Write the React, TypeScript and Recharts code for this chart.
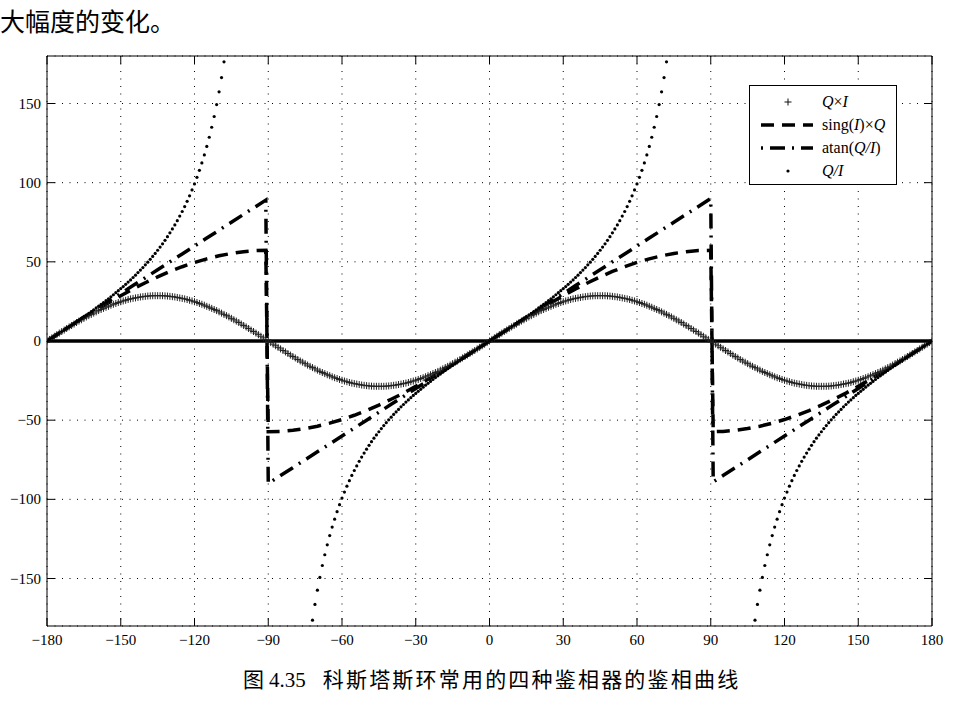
import React from 'react'
import {
  LineChart,
  Line,
  XAxis,
  YAxis,
  CartesianGrid,
  ReferenceLine,
  Legend,
} from 'recharts'

const X_TICKS = [-180, -150, -120, -90, -60, -30, 0, 30, 60, 90, 120, 150, 180]
const Y_TICKS = [-150, -100, -50, 0, 50, 100, 150]

// Q×I, one sample per degree from -180 to 180
const QI_START = -180
const QI_VALUES = [
  // -180 .. -90
  0, 1.0, 2.0, 3.0, 4.0, 5.0, 6.0, 6.9, 7.9, 8.9, 9.8, 10.7, 11.7, 12.6, 13.4, 14.3, 15.2, 16.0, 16.8, 17.6, 18.4, 19.2, 19.9,
  20.6, 21.3, 21.9, 22.6, 23.2, 23.7, 24.3, 24.8, 25.3, 25.7, 26.2, 26.6, 26.9, 27.2, 27.5, 27.8, 28.0, 28.2, 28.4, 28.5, 28.6, 28.6, 28.6,
  28.6, 28.6, 28.5, 28.4, 28.2, 28.0, 27.8, 27.5, 27.2, 26.9, 26.6, 26.2, 25.7, 25.3, 24.8, 24.3, 23.7, 23.2, 22.6, 21.9, 21.3, 20.6,
  19.9, 19.2, 18.4, 17.6, 16.8, 16.0, 15.2, 14.3, 13.4, 12.6, 11.7, 10.7, 9.8, 8.9, 7.9, 6.9, 6.0, 5.0, 4.0, 3.0, 2.0, 1.0, 0,
  // -89 .. 0
  -1.0, -2.0, -3.0, -4.0, -5.0, -6.0, -6.9, -7.9, -8.9, -9.8, -10.7, -11.7, -12.6, -13.4, -14.3, -15.2, -16.0, -16.8, -17.6, -18.4, -19.2, -19.9,
  -20.6, -21.3, -21.9, -22.6, -23.2, -23.7, -24.3, -24.8, -25.3, -25.7, -26.2, -26.6, -26.9, -27.2, -27.5, -27.8, -28.0, -28.2, -28.4, -28.5, -28.6, -28.6, -28.6,
  -28.6, -28.6, -28.5, -28.4, -28.2, -28.0, -27.8, -27.5, -27.2, -26.9, -26.6, -26.2, -25.7, -25.3, -24.8, -24.3, -23.7, -23.2, -22.6, -21.9, -21.3, -20.6,
  -19.9, -19.2, -18.4, -17.6, -16.8, -16.0, -15.2, -14.3, -13.4, -12.6, -11.7, -10.7, -9.8, -8.9, -7.9, -6.9, -6.0, -5.0, -4.0, -3.0, -2.0, -1.0, 0,
  // 1 .. 90
  1.0, 2.0, 3.0, 4.0, 5.0, 6.0, 6.9, 7.9, 8.9, 9.8, 10.7, 11.7, 12.6, 13.4, 14.3, 15.2, 16.0, 16.8, 17.6, 18.4, 19.2, 19.9,
  20.6, 21.3, 21.9, 22.6, 23.2, 23.7, 24.3, 24.8, 25.3, 25.7, 26.2, 26.6, 26.9, 27.2, 27.5, 27.8, 28.0, 28.2, 28.4, 28.5, 28.6, 28.6, 28.6,
  28.6, 28.6, 28.5, 28.4, 28.2, 28.0, 27.8, 27.5, 27.2, 26.9, 26.6, 26.2, 25.7, 25.3, 24.8, 24.3, 23.7, 23.2, 22.6, 21.9, 21.3, 20.6,
  19.9, 19.2, 18.4, 17.6, 16.8, 16.0, 15.2, 14.3, 13.4, 12.6, 11.7, 10.7, 9.8, 8.9, 7.9, 6.9, 6.0, 5.0, 4.0, 3.0, 2.0, 1.0, 0,
  // 91 .. 180
  -1.0, -2.0, -3.0, -4.0, -5.0, -6.0, -6.9, -7.9, -8.9, -9.8, -10.7, -11.7, -12.6, -13.4, -14.3, -15.2, -16.0, -16.8, -17.6, -18.4, -19.2, -19.9,
  -20.6, -21.3, -21.9, -22.6, -23.2, -23.7, -24.3, -24.8, -25.3, -25.7, -26.2, -26.6, -26.9, -27.2, -27.5, -27.8, -28.0, -28.2, -28.4, -28.5, -28.6, -28.6, -28.6,
  -28.6, -28.6, -28.5, -28.4, -28.2, -28.0, -27.8, -27.5, -27.2, -26.9, -26.6, -26.2, -25.7, -25.3, -24.8, -24.3, -23.7, -23.2, -22.6, -21.9, -21.3, -20.6,
  -19.9, -19.2, -18.4, -17.6, -16.8, -16.0, -15.2, -14.3, -13.4, -12.6, -11.7, -10.7, -9.8, -8.9, -7.9, -6.9, -6.0, -5.0, -4.0, -3.0, -2.0, -1.0, 0,
]

// angles for the sing / atan curves (extra points at ±91 for the jumps)
const STEP_ANGLES = [
  -180, -175, -170, -165, -160, -155, -150, -145, -140, -135, -130, -125, -120, -115, -110, -105, -100, -95, -91,
  -90, -85, -80, -75, -70, -65, -60, -55, -50, -45, -40, -35, -30, -25, -20, -15, -10, -5,
  0, 5, 10, 15, 20, 25, 30, 35, 40, 45, 50, 55, 60, 65, 70, 75, 80, 85, 90,
  91, 95, 100, 105, 110, 115, 120, 125, 130, 135, 140, 145, 150, 155, 160, 165, 170, 175, 180,
]

const SING_VALUES = [
  0, 5.0, 9.9, 14.8, 19.6, 24.2, 28.6, 32.9, 36.8, 40.5, 43.9, 46.9, 49.6, 51.9, 53.8, 55.3, 56.4, 57.1, 57.3,
  -57.3, -57.1, -56.4, -55.3, -53.8, -51.9, -49.6, -46.9, -43.9, -40.5, -36.8, -32.9, -28.6, -24.2, -19.6, -14.8, -9.9, -5.0,
  0, 5.0, 9.9, 14.8, 19.6, 24.2, 28.6, 32.9, 36.8, 40.5, 43.9, 46.9, 49.6, 51.9, 53.8, 55.3, 56.4, 57.1, 57.3,
  -57.3, -57.1, -56.4, -55.3, -53.8, -51.9, -49.6, -46.9, -43.9, -40.5, -36.8, -32.9, -28.6, -24.2, -19.6, -14.8, -9.9, -5.0, 0,
]

const ATAN_VALUES = [
  0, 5, 10, 15, 20, 25, 30, 35, 40, 45, 50, 55, 60, 65, 70, 75, 80, 85, 89,
  -90, -85, -80, -75, -70, -65, -60, -55, -50, -45, -40, -35, -30, -25, -20, -15, -10, -5,
  0, 5, 10, 15, 20, 25, 30, 35, 40, 45, 50, 55, 60, 65, 70, 75, 80, 85, 90,
  -89, -85, -80, -75, -70, -65, -60, -55, -50, -45, -40, -35, -30, -25, -20, -15, -10, -5, 0,
]

// Q/I, one sample per degree, only the parts that fall inside the axes
const RATIO_LEFT_START = -180
const RATIO_LEFT = [
  0, 1.0, 2.0, 3.0, 4.0, 5.0, 6.0, 7.0, 8.1, 9.1, 10.1, 11.1, 12.2, 13.2, 14.3, 15.4, 16.4, 17.5, 18.6, 19.7,
  20.9, 22.0, 23.1, 24.3, 25.5, 26.7, 27.9, 29.2, 30.5, 31.8, 33.1, 34.4, 35.8, 37.2, 38.6, 40.1, 41.6, 43.2, 44.8, 46.4,
  48.1, 49.8, 51.6, 53.4, 55.3, 57.3, 59.3, 61.4, 63.6, 65.9, 68.3, 70.8, 73.3, 76.0, 78.9, 81.8, 84.9, 88.2, 91.7, 95.4,
  99.2, 103.4, 107.8, 112.5, 117.5, 122.9, 128.7, 135.0, 141.8, 149.3, 157.4, 166.4, 176.3,
]
const RATIO_MID_START = -72
const RATIO_MID = [
  -176.3, -166.4, -157.4, -149.3, -141.8, -135.0, -128.7, -122.9, -117.5, -112.5, -107.8, -103.4, -99.2,
  -95.4, -91.7, -88.2, -84.9, -81.8, -78.9, -76.0, -73.3, -70.8, -68.3, -65.9, -63.6, -61.4, -59.3, -57.3,
  -55.3, -53.4, -51.6, -49.8, -48.1, -46.4, -44.8, -43.2, -41.6, -40.1, -38.6, -37.2, -35.8, -34.4, -33.1,
  -31.8, -30.5, -29.2, -27.9, -26.7, -25.5, -24.3, -23.1, -22.0, -20.9, -19.7, -18.6, -17.5, -16.4, -15.4,
  -14.3, -13.2, -12.2, -11.1, -10.1, -9.1, -8.1, -7.0, -6.0, -5.0, -4.0, -3.0, -2.0, -1.0,
  0,
  1.0, 2.0, 3.0, 4.0, 5.0, 6.0, 7.0, 8.1, 9.1, 10.1, 11.1, 12.2, 13.2, 14.3, 15.4, 16.4, 17.5, 18.6, 19.7,
  20.9, 22.0, 23.1, 24.3, 25.5, 26.7, 27.9, 29.2, 30.5, 31.8, 33.1, 34.4, 35.8, 37.2, 38.6, 40.1, 41.6, 43.2,
  44.8, 46.4, 48.1, 49.8, 51.6, 53.4, 55.3, 57.3, 59.3, 61.4, 63.6, 65.9, 68.3, 70.8, 73.3, 76.0, 78.9, 81.8,
  84.9, 88.2, 91.7, 95.4, 99.2, 103.4, 107.8, 112.5, 117.5, 122.9, 128.7, 135.0, 141.8, 149.3, 157.4, 166.4, 176.3,
]
const RATIO_RIGHT_START = 108
const RATIO_RIGHT = [
  -176.3, -166.4, -157.4, -149.3, -141.8, -135.0, -128.7, -122.9, -117.5, -112.5, -107.8, -103.4, -99.2,
  -95.4, -91.7, -88.2, -84.9, -81.8, -78.9, -76.0, -73.3, -70.8, -68.3, -65.9, -63.6, -61.4, -59.3, -57.3,
  -55.3, -53.4, -51.6, -49.8, -48.1, -46.4, -44.8, -43.2, -41.6, -40.1, -38.6, -37.2, -35.8, -34.4, -33.1,
  -31.8, -30.5, -29.2, -27.9, -26.7, -25.5, -24.3, -23.1, -22.0, -20.9, -19.7, -18.6, -17.5, -16.4, -15.4,
  -14.3, -13.2, -12.2, -11.1, -10.1, -9.1, -8.1, -7.0, -6.0, -5.0, -4.0, -3.0, -2.0, -1.0, 0,
]

const seg = (start: number, vals: number[]) => vals.map((y, i) => ({ x: start + i, y }))
const qiData = seg(QI_START, QI_VALUES)
const singData = STEP_ANGLES.map((x, i) => ({ x, y: SING_VALUES[i] }))
const atanData = STEP_ANGLES.map((x, i) => ({ x, y: ATAN_VALUES[i] }))
const ratioData = [
  ...seg(RATIO_LEFT_START, RATIO_LEFT),
  ...seg(RATIO_MID_START, RATIO_MID),
  ...seg(RATIO_RIGHT_START, RATIO_RIGHT),
]

const SERIF = '"Liberation Serif", "Times New Roman", serif'
const CJK = '"Noto Sans CJK SC", sans-serif'
const SING_DASH = '13 8'
const ATAN_DASH = '15 7 2 7'

const fmt = (v: number) => (v < 0 ? `\u2212${Math.abs(v)}` : `${v}`)

const BottomTick = ({ x, y, payload }: any) => (
  <g>
    <line x1={x} y1={y} x2={x} y2={y - 8} stroke="#000" />
    <text x={x} y={y + 19} textAnchor="middle" fontSize={15} fontFamily={SERIF} fill="#000">
      {fmt(payload.value)}
    </text>
  </g>
)
const TopTick = ({ x, y }: any) => <line x1={x} y1={y} x2={x} y2={y + 8} stroke="#000" />
const LeftTick = ({ x, y, payload }: any) => (
  <g>
    <line x1={x} y1={y} x2={x + 8} y2={y} stroke="#000" />
    <text x={x - 6} y={y + 5} textAnchor="end" fontSize={15} fontFamily={SERIF} fill="#000">
      {fmt(payload.value)}
    </text>
  </g>
)
const RightTick = ({ x, y }: any) => <line x1={x} y1={y} x2={x - 8} y2={y} stroke="#000" />

const PlusDot = (props: any) => {
  const { cx, cy, index } = props
  if (cx == null || cy == null) return <g key={index} />
  return (
    <path
      key={index}
      d={`M${cx - 3.5},${cy}H${cx + 3.5}M${cx},${cy - 3.5}V${cy + 3.5}`}
      stroke="#222"
      strokeWidth={1}
      fill="none"
    />
  )
}

function LegendBox() {
  const it = { fontStyle: 'italic' as const }
  const txt = { fontSize: 16, fontFamily: SERIF, fill: '#000' }
  return (
    <svg width={148} height={100} style={{ display: 'block' }}>
      <rect x={0.5} y={0.5} width={147} height={99} fill="#fff" stroke="#000" />
      {/* Q×I */}
      <path d="M35.5,17H42.5M39,13.5V20.5" stroke="#111" fill="none" />
      <text x={73} y={22} {...txt}>
        <tspan style={it}>Q</tspan>×<tspan style={it}>I</tspan>
      </text>
      {/* sing(I)×Q */}
      <line x1={12} y1={40} x2={64} y2={40} stroke="#000" strokeWidth={3.5} strokeDasharray={SING_DASH} />
      <text x={73} y={45} {...txt}>
        sing(<tspan style={it}>I</tspan>)×<tspan style={it}>Q</tspan>
      </text>
      {/* atan(Q/I) */}
      <line x1={12} y1={63} x2={64} y2={63} stroke="#000" strokeWidth={3.5} strokeDasharray="2 7 15 7" />
      <text x={73} y={68} {...txt}>
        atan(<tspan style={it}>Q/I</tspan>)
      </text>
      {/* Q/I */}
      <circle cx={39} cy={86} r={1.6} fill="#000" />
      <text x={73} y={91} {...txt}>
        <tspan style={it}>Q/I</tspan>
      </text>
    </svg>
  )
}

export default function App() {
  return (
    <div style={{ position: 'absolute', left: 0, top: 0, width: 960, height: 720, background: '#fff' }}>
      <div
        style={{
          position: 'absolute',
          left: 0,
          top: 8,
          fontSize: 25,
          lineHeight: '25px',
          fontFamily: CJK,
          color: '#000',
          whiteSpace: 'nowrap',
        }}
      >
        大幅度的变化。
      </div>

      <div style={{ position: 'absolute', left: 0, top: 0 }}>
        <LineChart width={960} height={720} margin={{ top: 36, right: 8, bottom: 64, left: 7 }}>
          <CartesianGrid stroke="#000" strokeDasharray="1 6.5" />
          <XAxis
            dataKey="x"
            type="number"
            domain={[-180, 180]}
            ticks={X_TICKS}
            interval={0}
            height={30}
            tickSize={0}
            tickMargin={0}
            tickLine={false}
            axisLine={{ stroke: '#000' }}
            tick={<BottomTick />}
            allowDataOverflow
          />
          <XAxis
            xAxisId="top"
            orientation="top"
            dataKey="x"
            type="number"
            domain={[-180, 180]}
            ticks={X_TICKS}
            interval={0}
            height={20}
            tickSize={0}
            tickMargin={0}
            tickLine={false}
            axisLine={{ stroke: '#000' }}
            tick={<TopTick />}
            allowDataOverflow
          />
          <YAxis
            type="number"
            domain={[-180, 180]}
            ticks={Y_TICKS}
            interval={0}
            width={40}
            tickSize={0}
            tickMargin={0}
            tickLine={false}
            axisLine={{ stroke: '#000' }}
            tick={<LeftTick />}
            allowDataOverflow
          />
          <YAxis
            yAxisId="right"
            orientation="right"
            type="number"
            domain={[-180, 180]}
            ticks={Y_TICKS}
            interval={0}
            width={20}
            tickSize={0}
            tickMargin={0}
            tickLine={false}
            axisLine={{ stroke: '#000' }}
            tick={<RightTick />}
            allowDataOverflow
          />
          <ReferenceLine y={0} stroke="#000" strokeWidth={3.5} />
          <Line
            data={qiData}
            dataKey="y"
            stroke="none"
            dot={PlusDot}
            activeDot={false}
            legendType="none"
            isAnimationActive={false}
          />
          <Line
            data={singData}
            dataKey="y"
            type="linear"
            stroke="#000"
            strokeWidth={3.5}
            strokeDasharray={SING_DASH}
            dot={false}
            activeDot={false}
            isAnimationActive={false}
          />
          <Line
            data={atanData}
            dataKey="y"
            type="linear"
            stroke="#000"
            strokeWidth={3.5}
            strokeDasharray={ATAN_DASH}
            dot={false}
            activeDot={false}
            isAnimationActive={false}
          />
          <Line
            data={ratioData}
            dataKey="y"
            stroke="none"
            dot={{ r: 1.6, fill: '#000', stroke: 'none' }}
            activeDot={false}
            isAnimationActive={false}
          />
          <Legend
            layout="vertical"
            align="center"
            verticalAlign="middle"
            content={() => <LegendBox />}
            wrapperStyle={{ left: 749, top: 85, width: 148, height: 100 }}
          />
        </LineChart>
      </div>

      <div
        style={{
          position: 'absolute',
          left: 243,
          top: 667,
          fontSize: 21,
          lineHeight: '22px',
          color: '#000',
          whiteSpace: 'nowrap',
        }}
      >
        <span style={{ fontFamily: CJK }}>图</span>
        <span style={{ fontFamily: SERIF, marginLeft: 5 }}>4.35</span>
        <span style={{ fontFamily: CJK, marginLeft: 17, letterSpacing: 2.2 }}>
          科斯塔斯环常用的四种鉴相器的鉴相曲线
        </span>
      </div>
    </div>
  )
}
